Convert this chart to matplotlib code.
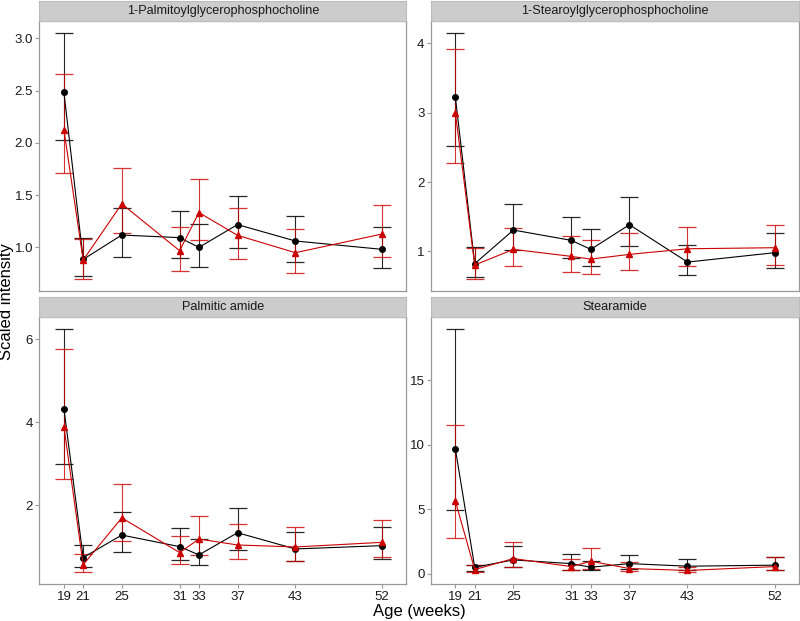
import numpy as np
import matplotlib.pyplot as plt

plt.rcParams['font.family'] = ['Liberation Sans', 'DejaVu Sans']

weeks = [19, 21, 25, 31, 33, 37, 43, 52]
titles = ['1-Palmitoylglycerophosphocholine', '1-Stearoylglycerophosphocholine',
          'Palmitic amide', 'Stearamide']

# black series (circles): mean, lower, upper
black_mean = [
    [2.485, 0.885, 1.118, 1.093, 1.000, 1.218, 1.061, 0.981],
    [3.226, 0.822, 1.308, 1.159, 1.029, 1.385, 0.846, 0.981],
    [4.327, 0.741, 1.283, 1.004, 0.805, 1.339, 0.948, 1.028],
    [9.675, 0.51, 1.075, 0.79, 0.51, 0.79, 0.59, 0.67],
]
black_low = [
    [2.024, 0.725, 0.910, 0.894, 0.814, 0.990, 0.862, 0.800],
    [2.514, 0.635, 1.025, 0.900, 0.790, 1.077, 0.654, 0.764],
    [2.996, 0.510, 0.884, 0.685, 0.566, 0.924, 0.661, 0.709],
    [4.94, 0.20, 0.51, 0.33, 0.26, 0.36, 0.26, 0.33],
]
black_high = [
    [3.054, 1.086, 1.381, 1.346, 1.227, 1.496, 1.301, 1.198],
    [4.154, 1.067, 1.688, 1.490, 1.317, 1.784, 1.091, 1.269],
    [6.247, 1.044, 1.841, 1.442, 1.179, 1.936, 1.363, 1.474],
    [18.97, 0.72, 2.12, 1.56, 0.97, 1.48, 1.18, 1.28],
]

# red series (triangles): mean, lower, upper
red_mean = [
    [2.126, 0.878, 1.416, 0.968, 1.333, 1.115, 0.949, 1.128],
    [3.000, 0.803, 1.029, 0.928, 0.889, 0.957, 1.038, 1.053],
    [3.896, 0.566, 1.697, 0.861, 1.187, 1.044, 0.996, 1.108],
    [5.63, 0.33, 1.18, 0.56, 0.97, 0.41, 0.26, 0.56],
]
red_low = [
    [1.710, 0.700, 1.134, 0.776, 1.070, 0.891, 0.757, 0.904],
    [2.279, 0.606, 0.788, 0.707, 0.678, 0.731, 0.788, 0.803],
    [2.621, 0.390, 1.147, 0.590, 0.805, 0.709, 0.661, 0.765],
    [2.76, 0.15, 0.56, 0.26, 0.41, 0.20, 0.13, 0.33],
]
red_high = [
    [2.658, 1.080, 1.758, 1.198, 1.659, 1.381, 1.176, 1.403],
    [3.923, 1.053, 1.341, 1.221, 1.163, 1.260, 1.356, 1.380],
    [5.761, 0.821, 2.518, 1.267, 1.745, 1.546, 1.474, 1.649],
    [11.52, 0.72, 2.43, 1.18, 2.00, 0.92, 0.56, 1.33],
]

yticks = [[1.0, 1.5, 2.0, 2.5, 3.0], [1, 2, 3, 4], [2, 4, 6], [0, 5, 10, 15]]
ytick_fmt = ['{:.1f}', '{:g}', '{:g}', '{:g}']

BLACK = '#000000'
RED = '#CC0000'
GRID_GREY = '#9a9a9a'

fig = plt.figure(figsize=(8, 6.21), dpi=100)

W, H = 800, 621
# panel boxes in pixels: left, top, right, bottom
boxes = [
    (39.3, 20.5, 406.3, 291.0),
    (430.7, 20.5, 798.7, 291.0),
    (39.3, 316.7, 406.3, 584.3),
    (430.7, 316.7, 798.7, 584.3),
]
strip_h = 20.0

for i in range(4):
    l, t, r, b = boxes[i]
    ax = fig.add_axes([l / W, 1 - b / H, (r - l) / W, (b - t) / H])
    sx = fig.add_axes([l / W, 1 - t / H, (r - l) / W, strip_h / H])
    sx.set_facecolor('#cccccc')
    sx.set_xticks([])
    sx.set_yticks([])
    for s in sx.spines.values():
        s.set_color('#bdbdbd')
        s.set_linewidth(0.8)
    sx.text(0.5, 0.47, titles[i], ha='center', va='center', fontsize=9.1,
            color='#1a1a1a', transform=sx.transAxes)

    x = np.array(weeks)
    bm, bl, bh = np.array(black_mean[i]), np.array(black_low[i]), np.array(black_high[i])
    rm, rl, rh = np.array(red_mean[i]), np.array(red_low[i]), np.array(red_high[i])

    ax.errorbar(x, bm, yerr=[bm - bl, bh - bm], fmt='none', ecolor=BLACK,
                elinewidth=0.8, capsize=6.5, capthick=0.9, alpha=0.85, zorder=2)
    ax.errorbar(x, rm, yerr=[rm - rl, rh - rm], fmt='none', ecolor=RED,
                elinewidth=0.8, capsize=6.5, capthick=0.9, alpha=0.8, zorder=2)
    ax.plot(x, bm, color=BLACK, lw=0.8, marker='o', ms=4.0, zorder=3)
    ax.plot(x, rm, color=RED, lw=0.8, marker='^', ms=4.3, zorder=4)

    lo = min(bl.min(), rl.min())
    hi = max(bh.max(), rh.max())
    pad = (hi - lo) * 0.05
    ax.set_ylim(lo - pad, hi + pad)
    ax.set_xlim(16.45, 54.5)

    ax.set_yticks(yticks[i])
    ax.set_yticklabels([ytick_fmt[i].format(v) for v in yticks[i]])
    ax.set_xticks(weeks)
    if i >= 2:
        ax.set_xticklabels([str(w) for w in weeks])
        ax.tick_params(axis='x', length=3, color=GRID_GREY, labelsize=9.5,
                       labelcolor='#1a1a1a', pad=2)
    else:
        ax.tick_params(axis='x', length=0, labelbottom=False)
    ax.tick_params(axis='y', length=3, color=GRID_GREY, labelsize=9.5,
                   labelcolor='#1a1a1a', pad=1.5)
    for s in ax.spines.values():
        s.set_color(GRID_GREY)
        s.set_linewidth(0.9)

fig.text(419 / W, 1 - 616 / H, 'Age (weeks)', ha='center', va='baseline', fontsize=12)
fig.text(7 / W, 1 - 302 / H, 'Scaled intensity', ha='center', va='center',
         rotation=90, fontsize=12)

fig.savefig('out.png', dpi=100)
